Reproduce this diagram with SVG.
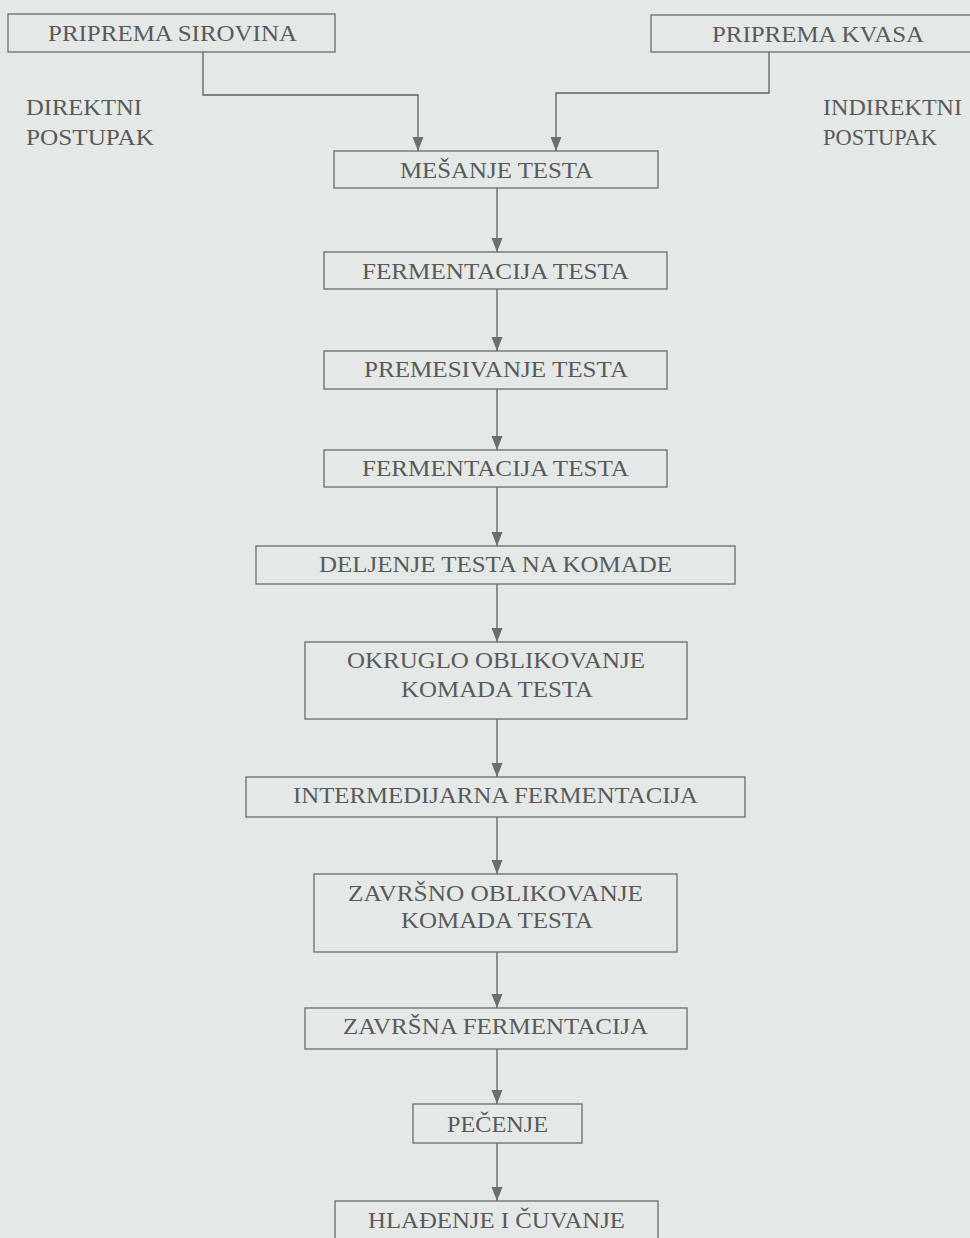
<svg xmlns="http://www.w3.org/2000/svg" width="970" height="1238" viewBox="0 0 970 1238">
<style>
.box{fill:none;stroke:#6a6a6a;stroke-width:1.3}
.t{font-family:"Liberation Serif","Times New Roman",serif;font-size:24px;fill:#5a5a5a}
.c{fill:none;stroke:#5e5e5e;stroke-width:1.3}
</style>
<defs>
<marker id="ah" markerUnits="userSpaceOnUse" markerWidth="15" markerHeight="12" refX="14" refY="6" orient="auto" viewBox="0 0 15 12">
<path d="M0,0.5 L14,6 L0,11.5 Z" fill="#6e6e6e"/>
</marker>
</defs>
<rect width="970" height="1238" fill="#e4e9e8"/>

<g id="connectors">
<path class="c" d="M203,52 V95 H418 V151" marker-end="url(#ah)"/>
<path class="c" d="M769,52 V93 H556 V151" marker-end="url(#ah)"/>
<path class="c" d="M497,188 V252" marker-end="url(#ah)"/>
<path class="c" d="M497,289 V351" marker-end="url(#ah)"/>
<path class="c" d="M497,389 V450" marker-end="url(#ah)"/>
<path class="c" d="M497,487 V546" marker-end="url(#ah)"/>
<path class="c" d="M497,584 V642" marker-end="url(#ah)"/>
<path class="c" d="M497,719 V777" marker-end="url(#ah)"/>
<path class="c" d="M497,817 V874" marker-end="url(#ah)"/>
<path class="c" d="M497,952 V1008" marker-end="url(#ah)"/>
<path class="c" d="M497,1049 V1104" marker-end="url(#ah)"/>
<path class="c" d="M497,1143 V1201" marker-end="url(#ah)"/>
</g>

<g id="priprema-sirovina">
<rect class="box" x="8" y="14" width="327" height="38"/>
<text class="t" x="48" y="41" textLength="249" lengthAdjust="spacingAndGlyphs">PRIPREMA SIROVINA</text>
</g>
<g id="priprema-kvasa">
<rect class="box" x="651" y="15" width="330" height="37"/>
<text class="t" x="712" y="42" textLength="212" lengthAdjust="spacingAndGlyphs">PRIPREMA KVASA</text>
</g>
<g id="direktni">
<text class="t" x="26" y="115" textLength="116" lengthAdjust="spacingAndGlyphs">DIREKTNI</text>
<text class="t" x="26" y="145" textLength="128" lengthAdjust="spacingAndGlyphs">POSTUPAK</text>
</g>
<g id="indirektni">
<text class="t" x="823" y="115" textLength="139" lengthAdjust="spacingAndGlyphs">INDIREKTNI</text>
<text class="t" x="823" y="145" textLength="114" lengthAdjust="spacingAndGlyphs">POSTUPAK</text>
</g>
<g id="mesanje">
<rect class="box" x="334" y="151" width="324" height="37"/>
<text class="t" x="400" y="178" textLength="193" lengthAdjust="spacingAndGlyphs">MEŠANJE TESTA</text>
</g>
<g id="fermentacija1">
<rect class="box" x="324" y="252" width="343" height="37"/>
<text class="t" x="362" y="279" textLength="267" lengthAdjust="spacingAndGlyphs">FERMENTACIJA TESTA</text>
</g>
<g id="premesivanje">
<rect class="box" x="324" y="351" width="343" height="38"/>
<text class="t" x="364" y="377" textLength="264" lengthAdjust="spacingAndGlyphs">PREMESIVANJE TESTA</text>
</g>
<g id="fermentacija2">
<rect class="box" x="324" y="450" width="343" height="37"/>
<text class="t" x="362" y="476" textLength="267" lengthAdjust="spacingAndGlyphs">FERMENTACIJA TESTA</text>
</g>
<g id="deljenje">
<rect class="box" x="256" y="546" width="479" height="38"/>
<text class="t" x="319" y="572" textLength="353" lengthAdjust="spacingAndGlyphs">DELJENJE TESTA NA KOMADE</text>
</g>
<g id="okruglo">
<rect class="box" x="305" y="642" width="382" height="77"/>
<text class="t" x="347" y="668" textLength="298" lengthAdjust="spacingAndGlyphs">OKRUGLO OBLIKOVANJE</text>
<text class="t" x="401" y="697" textLength="192" lengthAdjust="spacingAndGlyphs">KOMADA TESTA</text>
</g>
<g id="intermedijarna">
<rect class="box" x="246" y="777" width="499" height="40"/>
<text class="t" x="293" y="803" textLength="405" lengthAdjust="spacingAndGlyphs">INTERMEDIJARNA FERMENTACIJA</text>
</g>
<g id="zavrsno">
<rect class="box" x="314" y="874" width="363" height="78"/>
<text class="t" x="348" y="901" textLength="295" lengthAdjust="spacingAndGlyphs">ZAVRŠNO OBLIKOVANJE</text>
<text class="t" x="401" y="928" textLength="192" lengthAdjust="spacingAndGlyphs">KOMADA TESTA</text>
</g>
<g id="zavrsna">
<rect class="box" x="305" y="1008" width="382" height="41"/>
<text class="t" x="343" y="1034" textLength="305" lengthAdjust="spacingAndGlyphs">ZAVRŠNA FERMENTACIJA</text>
</g>
<g id="pecenje">
<rect class="box" x="413" y="1104" width="169" height="39"/>
<text class="t" x="447" y="1132" textLength="101" lengthAdjust="spacingAndGlyphs">PEČENJE</text>
</g>
<g id="hladjenje">
<rect class="box" x="335" y="1201" width="323" height="45"/>
<text class="t" x="368" y="1228" textLength="257" lengthAdjust="spacingAndGlyphs">HLAĐENJE I ČUVANJE</text>
</g>
</svg>
